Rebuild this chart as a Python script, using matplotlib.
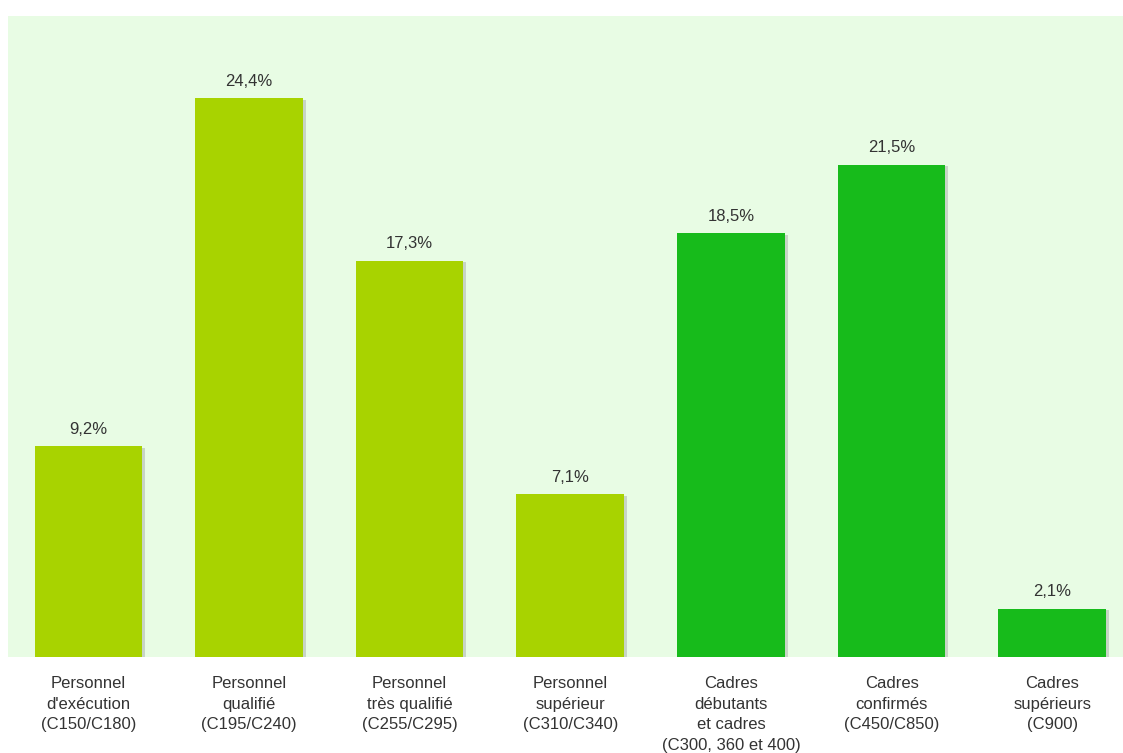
import matplotlib.pyplot as plt
import matplotlib.patheffects as pe
import numpy as np

categories = [
    "Personnel\nd'exécution\n(C150/C180)",
    "Personnel\nqualifié\n(C195/C240)",
    "Personnel\ntrès qualifié\n(C255/C295)",
    "Personnel\nsupérieur\n(C310/C340)",
    "Cadres\ndébutants\net cadres\n(C300, 360 et 400)",
    "Cadres\nconfirmés\n(C450/C850)",
    "Cadres\nsupérieurs\n(C900)",
]
values = [9.2, 24.4, 17.3, 7.1, 18.5, 21.5, 2.1]
labels = ["9,2%", "24,4%", "17,3%", "7,1%", "18,5%", "21,5%", "2,1%"]
colors = ["#a8d300"] * 4 + ["#17bb1b"] * 3

plt.rcParams["font.family"] = ["Liberation Sans", "DejaVu Sans"]

fig = plt.figure(figsize=(11.23, 7.53), dpi=100)
ax = fig.add_axes([8 / 1123, 96 / 753, 1115 / 1123, 641 / 753])
ax.set_facecolor("#e8fce4")

x = np.arange(len(categories))
bars = ax.bar(x, values, width=0.67, color=colors, zorder=2)
for b in bars:
    b.set_path_effects([pe.SimplePatchShadow(offset=(2, -1), shadow_rgbFace="#999999", alpha=0.4), pe.Normal()])

for xi, v, lab in zip(x, values, labels):
    ax.text(xi, v + 0.42, lab, ha="center", va="bottom", fontsize=12, color="#333333")

ax.set_xlim(-0.5, 6.44)
ax.set_ylim(0, 28)
ax.set_xticks(x)
ax.set_xticklabels(categories, fontsize=12, color="#333333", linespacing=1.45)
ax.tick_params(axis="x", length=0, pad=14)
ax.set_yticks([])
for s in ax.spines.values():
    s.set_visible(False)

plt.savefig("out.png", dpi=100)
